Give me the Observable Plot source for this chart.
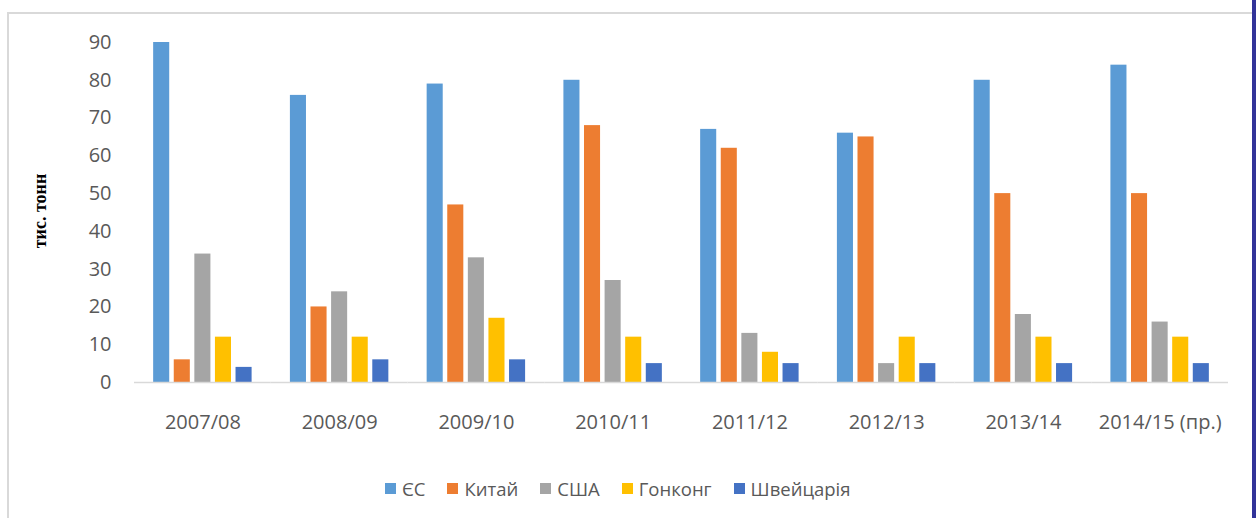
<!DOCTYPE html>
<html>
<head>
<meta charset="utf-8">
<script src="https://cdn.jsdelivr.net/npm/d3@7"></script>
<script src="https://cdn.jsdelivr.net/npm/@observablehq/plot@0.6"></script>
<style>
  html, body { margin: 0; padding: 0; background: #fff; }
  #wrap { position: relative; width: 1256px; height: 518px; overflow: hidden; }
  #chart { position: absolute; left: 0; top: 0; }
  .bd-top { position: absolute; left: 7px; top: 12px; width: 1246px; height: 2px; background: #d9d9d9; }
  .bd-left { position: absolute; left: 7px; top: 12px; width: 2px; height: 506px; background: #d9d9d9; }
  .bd-right { position: absolute; left: 1252px; top: 0; width: 4px; height: 518px; background: #323399; }
  #ylabel { position: absolute; left: 40px; top: 211px; transform: translate(-50%, -50%) rotate(-90deg);
            font-family: "Liberation Serif", serif; font-weight: bold; font-size: 18px; color: #000; white-space: nowrap; }
  #legend { position: absolute; left: 385px; top: 476px; display: flex; align-items: center;
            font-family: "Open Sans", sans-serif; font-size: 18.5px; color: #595959; white-space: nowrap; }
  #legend .item { display: flex; align-items: center; margin-right: 22px; }
  #legend .sw { width: 11px; height: 11px; margin-right: 6px; }
</style>
</head>
<body>
<div id="wrap">
  <div class="bd-top"></div>
  <div class="bd-left"></div>
  <div class="bd-right"></div>
  <div id="chart"></div>
  <div id="ylabel"></div>
  <div id="legend"></div>
</div>
<script>
const periods = ["2007/08", "2008/09", "2009/10", "2010/11", "2011/12", "2012/13", "2013/14", "2014/15 (пр.)"];
const series = ["ЄС", "Китай", "США", "Гонконг", "Швейцарія"];
const colors = ["#5B9BD5", "#ED7D31", "#A5A5A5", "#FFC000", "#4472C4"];
const euValues = [90, 76, 79, 80, 67, 66, 80, 84];
const chinaValues = [6, 20, 47, 68, 62, 65, 50, 50];
const usaValues = [34, 24, 33, 27, 13, 5, 18, 16];
const hongKongValues = [12, 12, 17, 12, 8, 12, 12, 12];
const switzerlandValues = [4, 6, 6, 5, 5, 5, 5, 5];
const yTicks = [0, 10, 20, 30, 40, 50, 60, 70, 80, 90];
const yLabel = "тис. тонн";

const seriesValues = [euValues, chinaValues, usaValues, hongKongValues, switzerlandValues];
const data = [];
periods.forEach((p, i) => {
  series.forEach((s, j) => data.push({period: p, series: s, value: seriesValues[j][i]}));
});

const plot = Plot.plot({
  width: 1256,
  height: 460,
  marginLeft: 134,
  marginRight: 28,
  marginTop: 42,
  marginBottom: 78,
  style: {fontFamily: "'Open Sans', sans-serif", fontSize: "20px", color: "#595959", background: "transparent"},
  fx: {domain: periods, padding: 0, round: false, label: null},
  x: {domain: series, paddingInner: 0.22, paddingOuter: 0.93, round: false, axis: null},
  y: {domain: [0, 90], label: null},
  color: {domain: series, range: colors},
  marks: [
    Plot.axisY({ticks: yTicks, tickSize: 0, tickPadding: 23, label: null}),
    Plot.axisFx({anchor: "bottom", tickSize: 0, tickPadding: 32, label: null}),
    Plot.barY(data, {fx: "period", x: "series", y: "value", fill: "series"}),
    Plot.ruleY([0], {stroke: "#d9d9d9", strokeWidth: 1.5})
  ]
});
document.getElementById("chart").appendChild(plot);
document.getElementById("ylabel").textContent = yLabel;

const legend = document.getElementById("legend");
series.forEach((s, i) => {
  const item = document.createElement("div");
  item.className = "item";
  const sw = document.createElement("div");
  sw.className = "sw";
  sw.style.background = colors[i];
  const t = document.createElement("span");
  t.textContent = s;
  item.appendChild(sw);
  item.appendChild(t);
  legend.appendChild(item);
});
</script>
</body>
</html>
